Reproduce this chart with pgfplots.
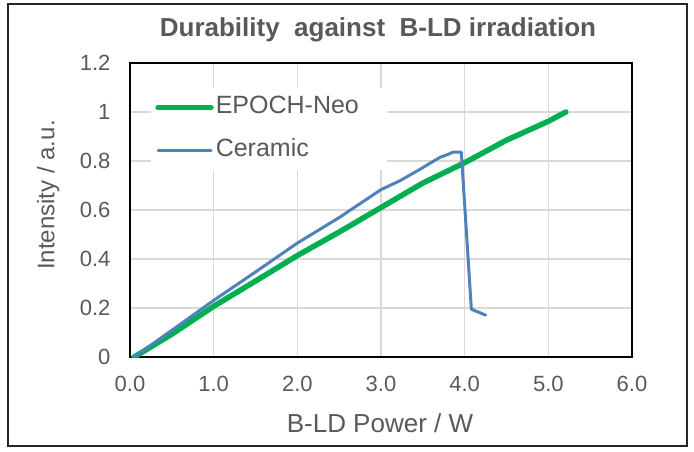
\documentclass[border=0pt]{standalone}
\usepackage{fontspec}
\setmainfont{Liberation Sans}
\usepackage{pgfplots}
\pgfplotsset{compat=1.18}
\definecolor{epoch}{HTML}{00B050}
\definecolor{ceramic}{HTML}{4F81BD}
\definecolor{txtgray}{HTML}{595959}
\definecolor{gridgray}{HTML}{D9D9D9}
\begin{document}
\begin{tikzpicture}
\begin{axis}[
  scale only axis,
  width=502pt, height=294pt,
  xmin=0, xmax=6, ymin=0, ymax=1.2,
  xtick={0,1,...,6}, ytick={0,0.2,...,1.2},
  xticklabel style={/pgf/number format/fixed, /pgf/number format/fixed zerofill,
    /pgf/number format/precision=1, yshift=-16pt},
  /pgf/number format/assume math mode=true,
  major tick length=0pt,
  tick label style={font=\fontsize{22}{24}\selectfont, text=txtgray},
  yticklabel style={xshift=-16pt},
  grid=major,
  major grid style={gridgray, line width=1.6pt},
  axis line style={black, line width=1.6pt},
  xlabel={B-LD Power / W},
  ylabel={Intensity / a.u.},
  xlabel style={font=\fontsize{26}{28}\selectfont, text=txtgray,
    at={(axis description cs:0.498,0)}, anchor=center, yshift=-66pt},
  ylabel style={font=\fontsize{24}{26}\selectfont, text=txtgray,
    at={(axis description cs:-0.163,0.551)}, anchor=center},
  title={Durability\ \ against\ \ B-LD irradiation},
  title style={font=\fontsize{26}{28}\selectfont\bfseries, text=txtgray,
    at={(axis description cs:0.494,1)}, anchor=center, yshift=27pt},
  legend style={draw=none, fill=white, at={(axis description cs:0.042,0.915)},
    anchor=north west, font=\fontsize{25}{27}\selectfont, text=txtgray,
    row sep=16pt, inner xsep=4pt, inner ysep=6pt,
    nodes={text height=17pt, text depth=6pt, inner ysep=2pt}},
  legend cell align=left,
  legend image code/.code={\draw[#1] (0pt,0pt) -- (53pt,0pt);},
]
\addplot[epoch, line width=5.5pt, line cap=round, line join=round] coordinates {
  (0.05,0.0) (0.5,0.093) (1.0,0.207) (1.5,0.31) (2.0,0.414) (2.5,0.51)
  (3.0,0.61) (3.5,0.71) (4.0,0.793) (4.5,0.885) (5.0,0.962) (5.21,1.0)
};
\addlegendentry{EPOCH-Neo\rule{22pt}{0pt}}
\addplot[ceramic, line width=3pt, line cap=round, line join=round] coordinates {
  (0.05,0.0) (0.5,0.109) (1.0,0.231) (1.5,0.347) (2.0,0.465) (2.5,0.569)
  (3.0,0.683) (3.23,0.72) (3.46,0.765) (3.7,0.814) (3.8,0.827) (3.86,0.836)
  (3.96,0.836) (4.08,0.195) (4.25,0.171)
};
\addlegendentry{Ceramic}
\end{axis}
\draw[black!85, line width=1.6pt] (-122pt,-89pt) rectangle (557pt,353pt);
\path (-130pt,-94pt) rectangle (564pt,357pt);
\end{tikzpicture}
\end{document}
